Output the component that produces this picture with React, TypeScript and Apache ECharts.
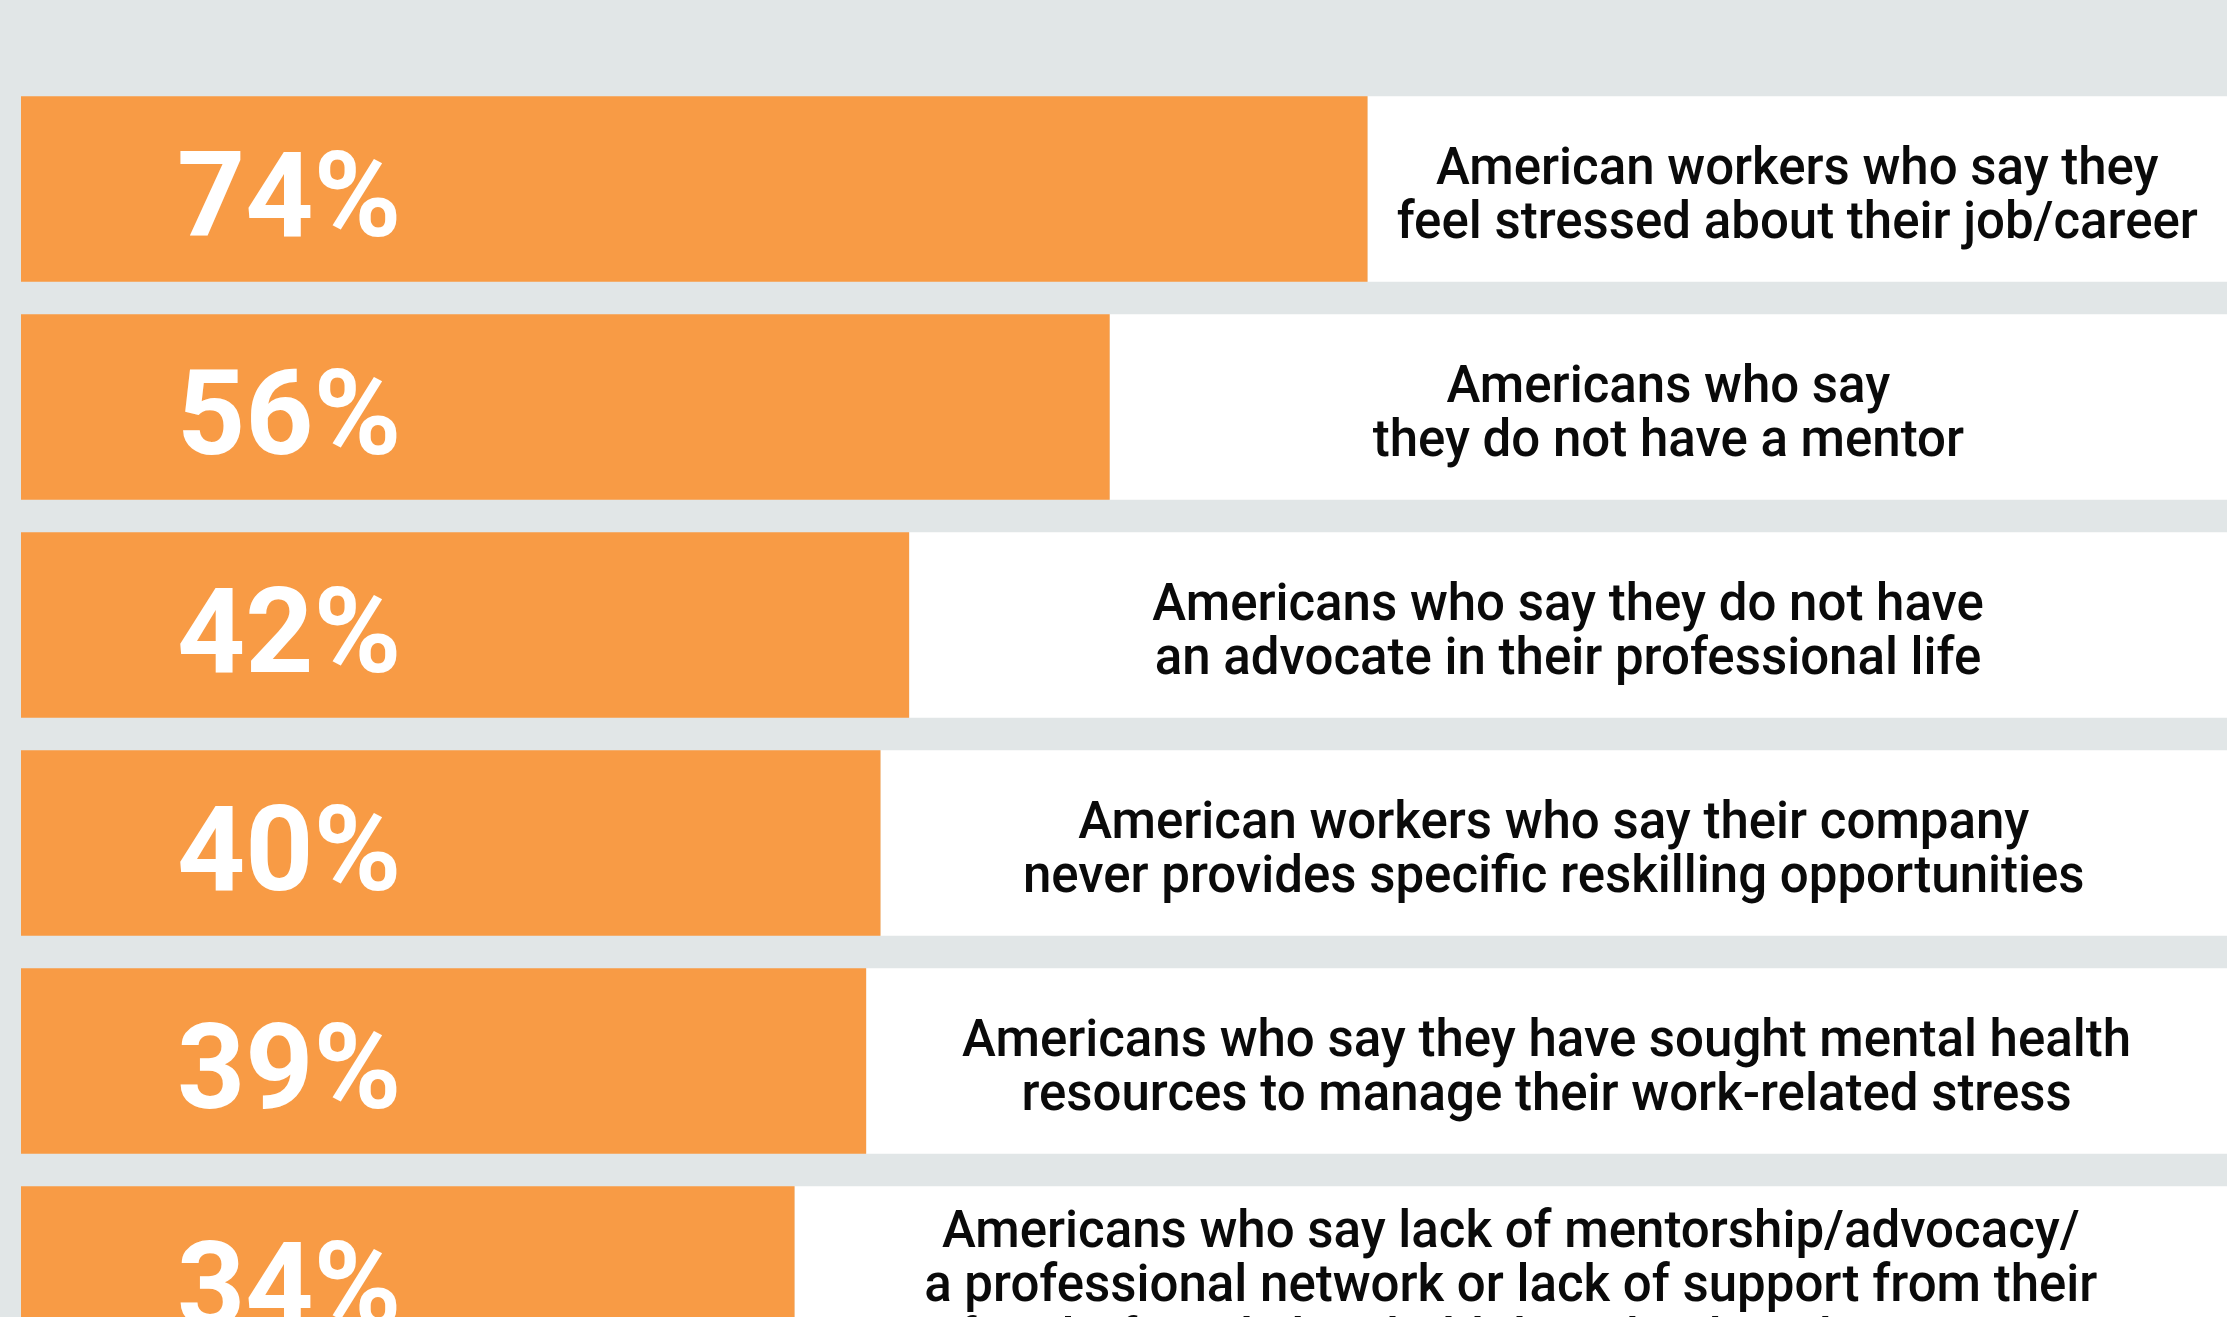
import React, { useEffect, useRef } from "react";
import * as echarts from "echarts";

const categories = ["stressed", "noMentor", "noAdvocate", "noReskilling", "mentalHealth", "heldBack"];
const values = [74, 56, 42, 40, 39, 34];
const percentLabels = ["74%", "56%", "42%", "40%", "39%", "34%"];
const descriptions = [
  "American workers who say they\nfeel stressed about their job/career",
  "Americans who say\nthey do not have a mentor",
  "Americans who say they do not have\nan advocate in their professional life",
  "American workers who say their company\nnever provides specific reskilling opportunities",
  "Americans who say they have sought mental health\nresources to manage their work-related stress",
  "Americans who say lack of mentorship/advocacy/\na professional network or lack of support from their\nfamily/friends has held them back in their career",
];
const X_MIN = -20;
const X_MAX = 134;

const ORANGE = "#F89B45";
const BG = "#E1E6E7";

export default function App() {
  const ref = useRef<HTMLDivElement>(null);
  useEffect(() => {
    document.body.style.margin = "0";
    document.body.style.overflow = "hidden";
    document.documentElement.style.overflow = "hidden";
    const chart = echarts.init(ref.current as HTMLDivElement, undefined, { renderer: "svg" });
    chart.setOption({
      animation: false,
      backgroundColor: BG,
      grid: { left: 21, right: 0, top: 80, bottom: 0 },
      xAxis: { type: "value", min: X_MIN, max: X_MAX, show: false, splitLine: { show: false } },
      yAxis: { type: "category", data: categories, inverse: true, show: false },
      series: [
        {
          type: "custom",
          encode: { x: 0, y: 1 },
          data: values.map((v, i) => [v, categories[i]]),
          renderItem: (params: any, api: any) => {
            const v = api.value(0);
            const idx = api.value(1);
            const start = api.coord([X_MIN, idx]);
            const end = api.coord([v, idx]);
            const band = api.size([0, 1])[1];
            const h = band * 0.85;
            const cs = params.coordSys;
            const right = cs.x + cs.width;
            const top = end[1] - h / 2;
            return {
              type: "group",
              children: [
                { type: "rect", shape: { x: end[0], y: top, width: right - end[0], height: h }, style: { fill: "#FFFFFF" } },
                { type: "rect", shape: { x: start[0], y: top, width: end[0] - start[0], height: h }, style: { fill: ORANGE } },
                {
                  type: "text",
                  x: start[0] + 156,
                  y: end[1] + 6,
                  style: {
                    text: percentLabels[idx],
                    fill: "#FFFFFF",
                    fontFamily: "Roboto",
                    fontWeight: "bold",
                    fontSize: 119,
                    align: "left",
                    verticalAlign: "middle",
                  },
                },
                {
                  type: "text",
                  x: (end[0] + right) / 2,
                  y: end[1] + 4,
                  style: {
                    text: descriptions[idx],
                    fill: "#0A0A0A",
                    fontFamily: "Roboto",
                    fontWeight: 500,
                    fontSize: 51,
                    lineHeight: 54,
                    align: "center",
                    verticalAlign: "middle",
                  },
                },
              ],
            };
          },
        },
      ],
    });
    return () => chart.dispose();
  }, []);
  return <div ref={ref} style={{ width: 2227, height: 1388 }} />;
}
